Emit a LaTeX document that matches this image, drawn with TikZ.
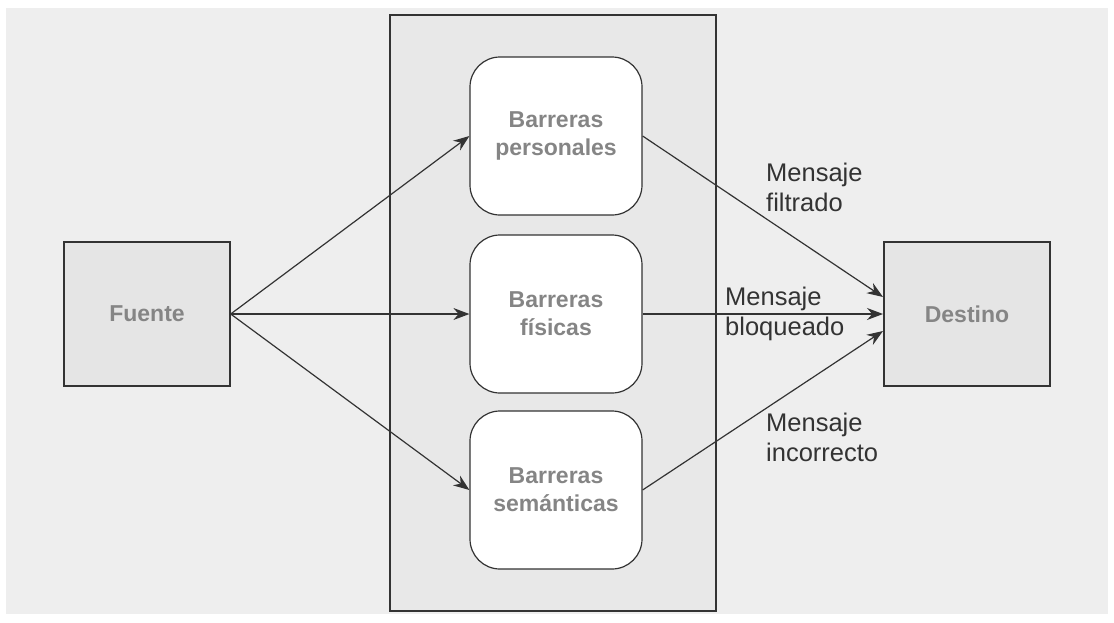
\documentclass[tikz,border=0pt]{standalone}
\usepackage{fontspec}
\setmainfont{Liberation Sans}
\usetikzlibrary{arrows.meta}
\definecolor{panel}{HTML}{EEEEEE}
\definecolor{zone}{HTML}{E8E8E8}
\definecolor{endbox}{HTML}{E5E5E5}
\definecolor{ink}{HTML}{333333}
\definecolor{soft}{HTML}{858585}
\begin{document}
\begin{tikzpicture}[x=1pt,y=-1pt,
  endpoint/.style={draw=ink,line width=1.4pt,fill=endbox,minimum width=166pt,minimum height=144pt,
    font=\fontsize{23}{28}\selectfont\bfseries,text=soft,inner sep=0pt},
  barrier/.style={draw=ink,line width=1.2pt,fill=white,rounded corners=30pt,minimum width=172pt,minimum height=158pt,
    font=\fontsize{23}{28}\selectfont\bfseries,text=soft,align=center,inner sep=0pt},
  flow/.style={draw=ink,line width=1.2pt,-{Stealth[length=16pt,width=12pt]}},
  msg/.style={font=\fontsize{25.5}{30}\selectfont,text=ink,align=left,anchor=west,inner sep=0pt}]
\useasboundingbox (0,0) rectangle (1114,622);
\fill[white] (0,0) rectangle (1114,622);
\fill[panel] (6,8) rectangle (1108,614);
% central zone holding the barriers
\draw[ink,line width=1.4pt,fill=zone] (390,15) rectangle (716,611);
\node[endpoint] (src) at (147,314) {Fuente};
\node[endpoint] (dst) at (967,314) {Destino};
\node[barrier] (b1) at (556,136) {Barreras\\personales};
\node[barrier] (b2) at (556,314) {Barreras\\físicas};
\node[barrier] (b3) at (556,490) {Barreras\\semánticas};
\coordinate (in1) at (883,297);
\coordinate (in2) at (883,314);
\coordinate (in3) at (883,331);
\draw[flow] (src.east) -- (b1.west);
\draw[flow] (src.east) -- (b2.west);
\draw[flow] (src.east) -- (b3.west);
\draw[flow] (b1.east) -- (in1);
\draw[flow] (b2.east) -- (in2);
\draw[flow] (b3.east) -- (in3);
\node[msg] (m1) at (766,187) {Mensaje\\filtrado};
\node[msg] (m2) at (725,314) {Mensaje\\bloqueado};
\node[msg] (m3) at (766,437) {Mensaje\\incorrecto};
\end{tikzpicture}
\end{document}
